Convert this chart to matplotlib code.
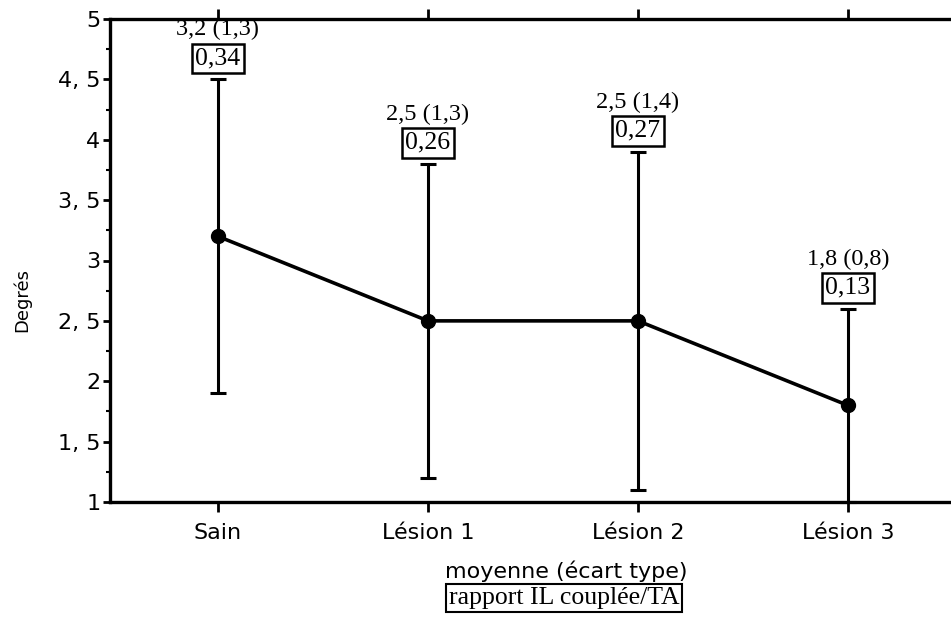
import numpy as np
import matplotlib.pyplot as plt
from matplotlib.ticker import FuncFormatter, MultipleLocator

groupes = ["Sain", "Lésion 1", "Lésion 2", "Lésion 3"]
moyennes = [3.2, 2.5, 2.5, 1.8]
ecarts = [1.3, 1.3, 1.4, 0.8]
rapports = [0.34, 0.26, 0.27, 0.13]
yticks = [1, 1.5, 2, 2.5, 3, 3.5, 4, 4.5, 5]


def virgule(v, nd=1):
    return f"{v:.{nd}f}".replace(".", ",")


fig = plt.figure(figsize=(9.51, 6.18), dpi=100)
W, H = 951, 618
ax = fig.add_axes([110 / W, 1 - 502 / H, 1 - 110 / W, (502 - 19) / H])

x = np.arange(len(groupes))
ax.errorbar(x, moyennes, yerr=ecarts, fmt="-o", color="black", lw=2.6,
            ms=10, elinewidth=2.2, capsize=6, capthick=2.2, clip_on=False)

# annotations: moyenne (écart type) au-dessus du rapport encadré
for xi, m, s, r in zip(x, moyennes, ecarts, rapports):
    haut = m + s
    ax.annotate(virgule(r, 2), xy=(xi, haut), xytext=(0, 10),
                textcoords="offset pixels", ha="center", va="bottom",
                family="Liberation Serif", fontsize=18.5,
                bbox=dict(boxstyle="square,pad=0.15", fc="white", ec="black", lw=1.8))
    ax.annotate(f"{virgule(m)} ({virgule(s)})", xy=(xi, haut), xytext=(0, 44),
                textcoords="offset pixels", ha="center", va="baseline",
                family="Liberation Serif", fontsize=17.5)

ax.set_xlim(-108 / 210, (W - 218) / 210)
ax.set_ylim(1, 5)
ax.set_xticks(x)
ax.set_xticklabels(groupes, fontsize=16)
ax.set_yticks(yticks)
ax.yaxis.set_major_formatter(FuncFormatter(lambda v, p: f"{v:g}".replace(".", ", ")))
ax.yaxis.set_minor_locator(MultipleLocator(0.25))
ax.tick_params(axis="y", labelsize=16, length=5, width=2, pad=2)
ax.tick_params(axis="y", which="minor", length=3, width=1.5)
ax.tick_params(axis="x", top=True, direction="out", length=7, width=2, pad=8)

ax.spines["right"].set_visible(False)
for cote in ["left", "bottom", "top"]:
    ax.spines[cote].set_linewidth(2.4)

fig.text(22 / W, 1 - 300 / H, "Degrés", rotation=90, ha="center", va="center",
         fontsize=13)
fig.text(566 / W, 1 - 571 / H, "moyenne (écart type)", ha="center", va="center",
         fontsize=16)
fig.text(564 / W, 1 - 598 / H, "rapport IL couplée/TA", ha="center", va="center",
         family="Liberation Serif", fontsize=18.5,
         bbox=dict(boxstyle="square,pad=0.1", fc="white", ec="black", lw=1.5))

fig.savefig("out.png", dpi=100)
